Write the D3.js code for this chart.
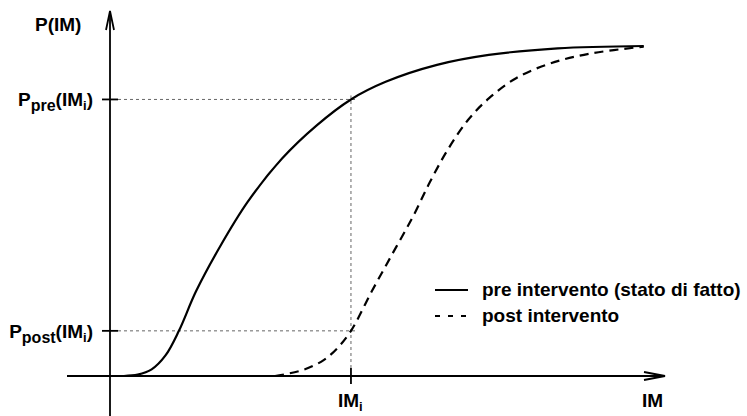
<!DOCTYPE html>
<html>
<head>
<meta charset="utf-8">
<script src="https://cdn.jsdelivr.net/npm/d3@7"></script>
<style>
  html, body { margin: 0; padding: 0; background: #fff; }
  svg { display: block; }
  text { font-family: "Liberation Sans", Arial, Helvetica, sans-serif; font-weight: bold; fill: #000; }
</style>
</head>
<body>
<svg id="chart" width="747" height="416"></svg>
<script>
// ---- data ----
const imPre  = [0.30, 0.60, 0.90, 1.20, 1.49, 1.86, 2.38, 2.98, 3.72, 4.47, 5.21, 5.96, 7.07, 8.19, 9.68, 11.54];
const pPre   = [0.000, 0.004, 0.020, 0.062, 0.136, 0.255, 0.390, 0.525, 0.655, 0.755, 0.833, 0.886, 0.937, 0.967, 0.987, 0.994];
const imPost = [3.57, 4.17, 4.62, 4.91, 5.21, 5.66, 6.11, 6.55, 6.92, 7.30, 7.74, 8.19, 8.78, 9.53, 10.42, 11.54];
const pPost  = [0.000, 0.018, 0.048, 0.083, 0.136, 0.255, 0.369, 0.480, 0.585, 0.681, 0.771, 0.836, 0.897, 0.942, 0.972, 0.992];
const imI = 5.21;
const pPreI = 0.833;
const pPostI = 0.136;
const legendLabels = ["pre intervento (stato di fatto)", "post intervento"];

// ---- scales ----
const x = d3.scaleLinear().domain([0, 12]).range([110, 665]);
const y = d3.scaleLinear().domain([0, 1]).range([376, 44]);

const svg = d3.select("#chart");

// reference dotted lines
const ref = svg.append("g").attr("stroke", "#666").attr("stroke-width", 1).attr("stroke-dasharray", "3,3").attr("fill", "none");
ref.append("line").attr("x1", x(0) + 8).attr("x2", x(imI) + 5).attr("y1", y(pPreI)).attr("y2", y(pPreI));
ref.append("line").attr("x1", x(0) + 8).attr("x2", x(imI) + 5).attr("y1", y(pPostI)).attr("y2", y(pPostI));
ref.append("line").attr("x1", x(imI)).attr("x2", x(imI)).attr("y1", y(0) - 8).attr("y2", y(pPreI) - 4);

// axes
const ax = svg.append("g").attr("stroke", "#000").attr("stroke-width", 1.8).attr("fill", "none");
ax.append("line").attr("x1", 67).attr("x2", x(12)).attr("y1", y(0)).attr("y2", y(0));
ax.append("line").attr("x1", x(0)).attr("x2", x(0)).attr("y1", 416).attr("y2", 11);
ax.append("path").attr("d", `M${x(12) - 21},${y(0) - 4} L${x(12)},${y(0)} L${x(12) - 21},${y(0) + 4}`);
ax.append("path").attr("d", `M${x(0) - 4},${30} L${x(0)},${11} L${x(0) + 4},${30}`);
[pPreI, pPostI].forEach(p => {
  ax.append("line").attr("x1", x(0) - 8).attr("x2", x(0) + 8).attr("y1", y(p)).attr("y2", y(p));
});
ax.append("line").attr("x1", x(imI)).attr("x2", x(imI)).attr("y1", y(0) - 8).attr("y2", y(0) + 8);

// curves
const line = d3.line().x(d => x(d[0])).y(d => y(d[1])).curve(d3.curveCatmullRom.alpha(0.5));
svg.append("path").datum(d3.zip(imPre, pPre))
  .attr("d", line).attr("fill", "none").attr("stroke", "#000").attr("stroke-width", 2.2);
svg.append("path").datum(d3.zip(imPost, pPost))
  .attr("d", line).attr("fill", "none").attr("stroke", "#000").attr("stroke-width", 2.2)
  .attr("stroke-dasharray", "9,6");

// labels
const fs = 19;
svg.append("text").attr("x", 35).attr("y", 31).attr("font-size", fs).text("P(IM)");

function pLabel(yv, sub) {
  const t = svg.append("text").attr("x", 93).attr("y", yv + 7).attr("text-anchor", "end").attr("font-size", fs);
  t.append("tspan").text("P");
  t.append("tspan").attr("font-size", 16).attr("dy", 5).text(sub);
  t.append("tspan").attr("dy", -5).text("(IM");
  t.append("tspan").attr("font-size", 13).attr("dy", 4).text("i");
  t.append("tspan").attr("dy", -4).text(")");
}
pLabel(y(pPreI), "pre");
pLabel(y(pPostI), "post");

const imLab = svg.append("text").attr("x", x(imI) - 13).attr("y", 407).attr("font-size", fs);
imLab.append("tspan").text("IM");
imLab.append("tspan").attr("font-size", 13).attr("dy", 4).text("i");

svg.append("text").attr("x", 663).attr("y", 407).attr("text-anchor", "end").attr("font-size", fs).text("IM");

// legend
const lg = svg.append("g");
lg.append("line").attr("x1", 435).attr("x2", 468).attr("y1", 290).attr("y2", 290)
  .attr("stroke", "#000").attr("stroke-width", 1.8);
lg.append("line").attr("x1", 435).attr("x2", 468).attr("y1", 316).attr("y2", 316)
  .attr("stroke", "#000").attr("stroke-width", 1.8).attr("stroke-dasharray", "5,8");
lg.append("text").attr("x", 482).attr("y", 296).attr("font-size", fs).text(legendLabels[0]);
lg.append("text").attr("x", 482).attr("y", 322).attr("font-size", fs).text(legendLabels[1]);
</script>
</body>
</html>
